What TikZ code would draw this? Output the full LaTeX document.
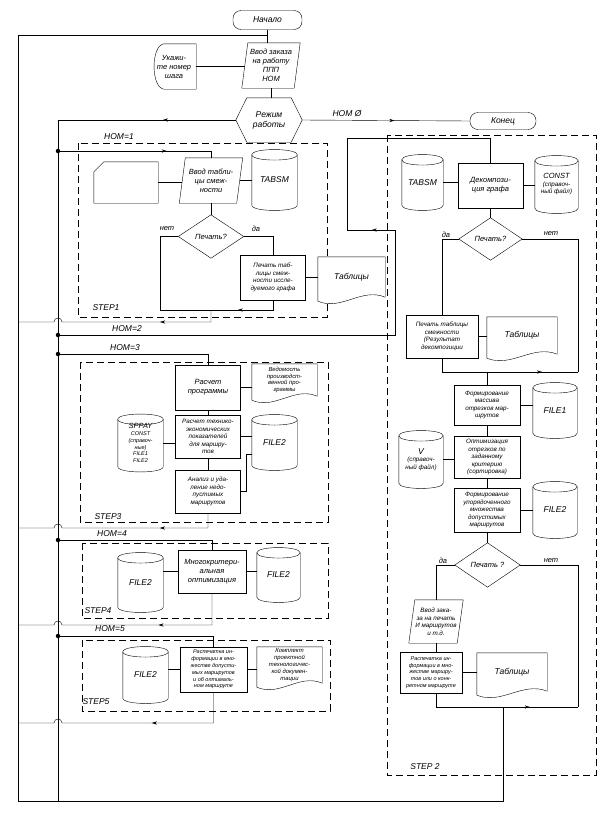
\documentclass[tikz,border=0pt]{standalone}
\usepackage{fontspec}
\setmainfont{Liberation Sans}
\usetikzlibrary{calc,arrows.meta,decorations.markings}
\pgfdeclarelayer{back}\pgfdeclarelayer{mid}\pgfsetlayers{back,mid,main}
\newcommand\fA{\fontsize{7.5}{9}\selectfont\itshape}
\newcommand\fB{\fontsize{6.3}{7.5}\selectfont\itshape}
\newcommand\fC{\fontsize{5.5}{6.8}\selectfont\itshape}
\newcommand\fD{\fontsize{5.9}{6.9}\selectfont\itshape}
\newcommand\fL{\fontsize{8.5}{10}\selectfont\itshape}
\newcommand\cylsh[1]{\begin{pgfonlayer}{mid}
\draw[fill=white] ($(#1.north west)+(0,-5pt)$) .. controls ($(#1.north west)+(0,2pt)$) and ($(#1.north east)+(0,2pt)$) .. ($(#1.north east)+(0,-5pt)$) -- ($(#1.south east)+(0,5pt)$) .. controls ($(#1.south east)+(0,-2pt)$) and ($(#1.south west)+(0,-2pt)$) .. ($(#1.south west)+(0,5pt)$) -- cycle;
\draw ($(#1.north west)+(0,-5pt)$) .. controls ($(#1.north west)+(0,-12pt)$) and ($(#1.north east)+(0,-12pt)$) .. ($(#1.north east)+(0,-5pt)$);
\end{pgfonlayer}}
\newcommand\docsh[1]{\begin{pgfonlayer}{mid}
\draw[fill=white] (#1.north east) -- (#1.north west) -- ($(#1.south west)+(0,-4pt)$) .. controls ($(#1.south west)!0.35!(#1.south east)+(0,-14pt)$) and ($(#1.south west)!0.65!(#1.south east)+(0,10pt)$) .. (#1.south east) -- cycle;
\end{pgfonlayer}}
\newcommand\parash[1]{\begin{pgfonlayer}{mid}
\draw[fill=white] ($(#1.north west)+(3pt,0)$) -- ($(#1.north east)+(3pt,0)$) -- ($(#1.south east)+(-3pt,0)$) -- ($(#1.south west)+(-3pt,0)$) -- cycle;
\end{pgfonlayer}}
\newcommand\diash[1]{\begin{pgfonlayer}{mid}
\draw[fill=white] (#1.north) -- (#1.east) -- (#1.south) -- (#1.west) -- cycle;
\end{pgfonlayer}}
\newcommand\hexsh[1]{\begin{pgfonlayer}{mid}
\draw[fill=white] (#1.west) -- ($(#1.north west)+(11pt,0)$) -- ($(#1.north east)+(-11pt,0)$) -- (#1.east) -- ($(#1.south east)+(-11pt,0)$) -- ($(#1.south west)+(11pt,0)$) -- cycle;
\end{pgfonlayer}}
\newcommand\dispsh[1]{\begin{pgfonlayer}{mid}
\draw[fill=white] ($(#1.north west)+(12pt,0)$) -- (#1.north east) -- (#1.south east) -- ($(#1.south west)+(12pt,0)$) .. controls ($(#1.south west)+(-1pt,2pt)$) and ($(#1.north west)+(-1pt,-2pt)$) .. ($(#1.north west)+(12pt,0)$) -- cycle;
\end{pgfonlayer}}
\newcommand\cardsh[1]{\begin{pgfonlayer}{mid}
\draw[fill=white] ($(#1.north west)+(10pt,0)$) -- (#1.north east) -- (#1.south east) -- (#1.south west) -- ($(#1.north west)+(0,-10pt)$) -- cycle;
\end{pgfonlayer}}
\begin{document}
\begin{tikzpicture}[x=1pt,y=-1pt,line width=0.9pt,
  t/.style={inner sep=0pt,align=center,font=\fA},
  wh/.style 2 args={minimum width=#1pt,minimum height=#2pt},
  bx/.style={draw,fill=white},
  term/.style={draw,fill=white,rounded corners=8pt},
  lab/.style={inner sep=0pt,font=\fL},
  sl/.style={inner sep=0pt,font=\fA},
  dsh/.style={dash pattern=on 7pt off 4pt,line width=0.8pt},
  jdot/.style={circle,fill,inner sep=0pt,minimum size=4.5pt},
  ma/.style={postaction={decorate},decoration={markings,mark=at position #1 with {\arrow{Stealth[length=5pt,width=3.2pt]}}}},
  ma/.default=0.5]
\useasboundingbox (0,0) rectangle (604,814);
% dashed step frames
\begin{pgfonlayer}{back}
\draw[dsh] (78,143) rectangle (327,317);
\draw[dsh] (387,135) rectangle (596,775);
\draw[dsh] (80,362) rectangle (328,522);
\draw[dsh] (82,543) rectangle (328,618);
\draw[dsh] (82,640) rectangle (330,711);
\end{pgfonlayer}
% top
\node[t,term,font=\fL,wh={69}{19}] (start) at (267.5,20) {Начало};
\node[t,wh={52}{45}] (inp0) at (271,65.5) {Ввод заказа\\на работу\\ППП\\НОМ}; \parash{inp0}
\node[t,wh={44}{45}] (disp) at (174,66.5) {Укажи-\\те номер\\шага}; \dispsh{disp}
\node[t,font=\fL,wh={66}{44}] (hex) at (269,120) {Режим\\работы}; \hexsh{hex}
\node[t,term,font=\fL,wh={66}{17}] (end) at (503,121) {Конец};
\coordinate (tj) at (267.5,35);
\draw (start.south) -- (start.south |- inp0.north);
\draw (disp.east) -- (disp.east -| inp0.west);
\draw (inp0.south) -- (inp0.south |- hex.north);
\draw[ma=0.55] (hex.east) -- (end.west);
\node[lab] (lnom0) at (347,114) {НОМ Ø};
% bus
\coordinate (bT) at (58,120);
\coordinate (bB) at (58,801);
\draw[ma=0.41] (hex.west) -- (bT);
\draw (bT) -- (bB);
% STEP1
\node[t,wh={64}{41}] (card) at (126,182.5) {}; \cardsh{card}
\node[t,wh={57}{45}] (inp1) at (211,180.5) {Ввод табли-\\цы смеж-\\ности}; \parash{inp1}
\node[t,font=\fL,wh={45}{60}] (tabsm1) at (274.5,180) {TABSM}; \cylsh{tabsm1}
\node[t,wh={65}{43}] (dia1) at (211,236.5) {Печать?}; \diash{dia1}
\node[t,bx,font=\fB,wh={65}{45}] (pr1) at (273,277.5) {Печать таб-\\лицы смеж-\\ности иссле-\\дуемого графа};
\node[t,font=\fL,wh={67}{40}] (tab1) at (351.5,277) {Таблицы}; \docsh{tab1}
\coordinate (d1) at (58,151);
\draw[ma=0.68] (d1) -| (inp1.north);
\draw (card.east) -- (card.east -| inp1.west);
\draw (inp1.east) -- (inp1.east -| tabsm1.west);
\draw (inp1.south) -- (dia1.north);
\draw (dia1.east) -| (pr1.north);
\draw (pr1.east) -- (pr1.east -| tab1.west);
\coordinate (m1L) at (160,310); \coordinate (m1R) at (273,310); \coordinate (m1X) at (211,310);
\draw[ma=0.21] (pr1.south) -- (m1R) -- (m1L) |- (dia1.west);
\coordinate (x1) at (211,322); \coordinate (L1) at (18,322);
\draw[ma=0.3] (m1X) -- (x1) -- (62,322) .. controls (62,316.7) and (54,316.7) .. (54,322) -- (L1);
\node[sl] (n1a) at (167,229) {нет};
\node[sl] (n1b) at (256,229) {да};
\node[lab] (lnom1) at (119,137) {НОМ=1};
\node[lab] (lstep1) at (106,308) {STEP1};
\node[lab] (lnom2) at (127,329) {НОМ=2};
% NOM=2 route to step 2
\coordinate (d2) at (58,335);
\coordinate (r2a) at (395,335); \coordinate (r2b) at (395,230); \coordinate (r2c) at (347,230); \coordinate (r2d) at (347,138);
% STEP2
\node[t,font=\fL,wh={41}{55}] (tabsm2) at (422.5,182.5) {TABSM}; \cylsh{tabsm2}
\node[t,bx,wh={65}{45}] (dec) at (490.5,185.5) {Декомпози-\\ция графа};
\node[t,font=\fB,wh={43}{57}] (const) at (556.5,184.5) {{\fA CONST}\\(справоч-\\ный файл)}; \cylsh{const}
\node[t,wh={63}{42}] (dia2) at (490.5,239) {Печать?}; \diash{dia2}
\node[t,bx,font=\fB,wh={72}{43}] (pr2) at (442,336.5) {Печать таблицы\\смежности\\(Результат\\декомпозиции};
\node[t,font=\fL,wh={70}{37}] (tab2) at (522,335.5) {Таблицы}; \docsh{tab2}
\node[t,bx,font=\fB,wh={66}{40}] (fm) at (487,405) {Формирование\\массива\\отрезков мар-\\шрутов};
\node[t,font=\fL,wh={44}{55}] (file1) at (555,410.5) {FILE1}; \cylsh{file1}
\node[t,bx,font=\fB,wh={66}{42}] (opt) at (487,457) {Оптимизация\\отрезков по\\заданному\\критерию\\(сортировка)};
\node[t,font=\fB,wh={44}{57}] (vf) at (421,459.5) {{\fL V}\\(справоч-\\ный файл)}; \cylsh{vf}
\node[t,bx,font=\fB,wh={66}{44}] (fu) at (487,510) {Формирование\\упорядоченного\\множества\\допустимых\\маршрутов};
\node[t,font=\fL,wh={44}{56}] (file2) at (555,510) {FILE2}; \cylsh{file2}
\node[t,wh={65}{44}] (dia3) at (487.5,565) {Печать ?}; \diash{dia3}
\node[t,font=\fB,wh={48}{43}] (inp2) at (436,621.5) {Ввод зака-\\за на печать\\И маршрутов\\и т.д.}; \parash{inp2}
\node[t,bx,font=\fC,wh={62}{41}] (rsp2) at (431,672.5) {Распечатка ин-\\формации в мно-\\жестве маршру-\\тов или о конк-\\ретном маршруте};
\node[t,font=\fL,wh={70}{38}] (tab3) at (512,672) {Таблицы}; \docsh{tab3}
\draw[ma=0.62] (d2) -- (r2a) -- (r2b) -- (r2c) -- (r2d) -| (dec.north);
\draw (tabsm2.east) -- (tabsm2.east -| dec.west);
\draw (dec.east) -- (dec.east -| const.west);
\draw (dec.south) -- (dec.south |- dia2.north);
\draw (dia2.west) -| (pr2.north);
\draw (pr2.east) -- (pr2.east -| tab2.west);
\coordinate (m2R) at (578,372);
\draw (dia2.east) -| (m2R);
\draw[ma=0.76] (pr2.south) |- (m2R);
\draw (fm.north) -- (fm.north |- m2R);
\draw (fm.east) -- (fm.east -| file1.west);
\draw (fm.south) -- (opt.north);
\draw (opt.south) -- (fu.north);
\draw (vf.east) -- (vf.east -| opt.west);
\draw (fu.east) -- (fu.east -| file2.west);
\draw (fu.south) -- (fu.south |- dia3.north);
\draw (dia3.west) -| (inp2.north);
\draw (inp2.south) -- (inp2.south |- rsp2.north);
\draw (rsp2.east) -- (rsp2.east -| tab3.west);
\coordinate (m3R) at (578,707); \coordinate (m3B) at (503,707); \coordinate (m3L) at (436,707);
\draw (dia3.east) -| (m3R);
\draw[ma=0.69] (inp2.south |- rsp2.south) -- (m3L) -- (m3R);
\node[sl] (n2a) at (446,235) {да};
\node[sl] (n2b) at (551,234) {нет};
\node[sl] (n3a) at (443,561) {да};
\node[sl] (n3b) at (551,561) {нет};
\node[lab] (lstep2) at (425,767) {STEP 2};
% return loop
\coordinate (bl) at (503,801); \coordinate (lb) at (18,801); \coordinate (lt) at (18,35);
\draw (m3B) -- (bl) -- (lb) -- (lt) -- (tj);
% STEP3
\node[lab] (lnom3) at (125,348) {НОМ=3};
\coordinate (d3) at (58,354);
\node[t,bx,wh={65}{45}] (rp) at (208,387.5) {Расчет\\программы};
\node[t,font=\fD,wh={65}{32}] (ved) at (284.5,380) {Ведомость\\производст-\\венной про-\\граммы}; \docsh{ved}
\node[t,bx,font=\fB,wh={65}{43}] (rte) at (208,436.5) {Расчет технико-\\экономических\\показателей\\для маршру-\\тов};
\node[t,font=\fC,wh={45}{57}] (spr) at (140.5,443) {{\fA SPPAY}\\CONST\\(справоч-\\ные)\\FILE1\\FILE2}; \cylsh{spr}
\node[t,font=\fL,wh={45}{55}] (f2a) at (274.5,442.5) {FILE2}; \cylsh{f2a}
\node[t,bx,font=\fB,wh={65}{43}] (an) at (208,491.5) {Анализ и уда-\\ление недо-\\пустимых\\маршрутов};
\draw (d3) -| (rp.north);
\draw (rp.south) -- (rte.north);
\draw (rte.south) -- (an.north);
\draw (spr.east) -- (spr.east -| rte.west);
\draw (rte.east) -- (rte.east -| f2a.west);
\draw (rp.east) -- (rp.east -| ved.west);
\draw (an.east) -- ++(5,0) |- ($(f2a.west)+(0,-12pt)$);
\coordinate (x3) at (208,528); \coordinate (L3) at (18,528);
\draw[ma=0.3] (an.south) -- (x3) -- (62,528) .. controls (62,522.7) and (54,522.7) .. (54,528) -- (L3);
\node[lab] (lstep3) at (108,517) {STEP3};
% STEP4
\node[lab] (lnom4) at (112,534) {НОМ=4};
\coordinate (d4) at (58,540);
\node[t,bx,wh={68}{43}] (mko) at (212,571.5) {Многокритери-\\альная\\оптимизация};
\node[t,font=\fL,wh={45}{59}] (f2b) at (140.5,582.5) {FILE2}; \cylsh{f2b}
\node[t,font=\fL,wh={43}{54}] (f2c) at (278.5,575) {FILE2}; \cylsh{f2c}
\draw (d4) -| (mko.north);
\draw (mko.west) -- (mko.west -| f2b.east);
\draw (mko.east) -- (mko.east -| f2c.west);
\coordinate (x4) at (212,625); \coordinate (L4) at (18,625);
\draw[ma=0.37] (mko.south) -- (x4) -- (62,625) .. controls (62,619.7) and (54,619.7) .. (54,625) -- (L4);
\node[lab] (lstep4) at (98,611) {STEP4};
% STEP5
\node[lab] (lnom5) at (110,629) {НОМ=5};
\coordinate (d5) at (58,636);
\node[t,bx,font=\fC,wh={67}{45}] (rsp) at (213.5,669.5) {Распечатка ин-\\формации в мно-\\жестве допусти-\\мых маршрутов\\и об оптималь-\\ном маршруте};
\node[t,font=\fL,wh={45}{56}] (f2d) at (145.5,675) {FILE2}; \cylsh{f2d}
\node[t,font=\fD,wh={65}{36}] (kom) at (289.5,665) {Комплект\\проектной\\технологичес-\\кой докумен-\\тации}; \docsh{kom}
\draw (d5) -| (rsp.north);
\draw (rsp.west) -- (rsp.west -| f2d.east);
\draw (rsp.east) -- (rsp.east -| kom.west);
\coordinate (x5) at (213.5,723); \coordinate (L5) at (18,723);
\draw[ma=0.4] (rsp.south) -- (x5) -- (62,723) .. controls (62,717.7) and (54,717.7) .. (54,723) -- (L5);
\node[lab] (lstep5) at (96,702) {STEP5};
% junction dots
\foreach \p in {d1,d2,d3,d4,d5} \node[jdot] at (\p) {};
\end{tikzpicture}
\end{document}
